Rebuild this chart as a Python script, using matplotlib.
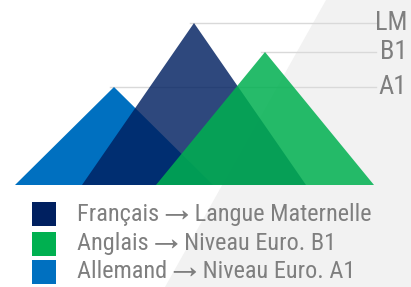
import matplotlib.pyplot as plt
from matplotlib.patches import Polygon

# languages, drawn back to front
languages = ["Allemand", "Français", "Anglais"]
levels = ["A1", "LM", "B1"]
heights = [98, 162, 133]
centers = [114, 194, 265]
half_widths = [99, 112, 109]
colors = ["#0070C0", "#002060", "#00B050"]
alphas = [1.0, 0.82, 0.85]

legend_labels = [
    "Français \u2192 Langue Maternelle",
    "Anglais \u2192 Niveau Euro. B1",
    "Allemand \u2192 Niveau Euro. A1",
]
legend_colors = ["#002060", "#00B050", "#0070C0"]

FONT = ["Roboto Condensed", "Archivo Narrow", "Liberation Sans", "DejaVu Sans"]
GREY_TEXT = "#7F7F7F"

fig = plt.figure(figsize=(4.11, 2.87), dpi=100)
ax = fig.add_axes([0, 0, 1, 1])
ax.set_xlim(0, 411)
ax.set_ylim(-102, 185)
ax.axis("off")

# light grey diagonal band on the right
ax.add_patch(Polygon([(326, 185), (411, 185), (411, -102), (165, -102)],
                     closed=True, facecolor="#F2F2F2", edgecolor="none", zorder=0))

# guide lines from each peak to its level label
for lvl, h, c in zip(levels, heights, centers):
    ax.plot([c - 4, 376], [h, h], color="#D9D9D9", lw=1, zorder=1)
    ax.text(407, h, lvl, ha="right", va="center", fontsize=19,
            color=GREY_TEXT, family=FONT, zorder=5)

# mountains
for i, (h, c, w, col, a) in enumerate(zip(heights, centers, half_widths, colors, alphas)):
    tri = Polygon([(c - w, 0), (c, h), (c + w, 0)], closed=True,
                  facecolor=col, edgecolor="none", alpha=a, zorder=2 + i)
    ax.add_patch(tri)

# legend
legend_y = [-29, -58.5, -87]
for lab, col, y in zip(legend_labels, legend_colors, legend_y):
    ax.add_patch(plt.Rectangle((32, y - 12), 24, 24, facecolor=col,
                               edgecolor="none", zorder=5))
    ax.text(77, y, lab, ha="left", va="center", fontsize=17.5,
            color=GREY_TEXT, family=FONT, zorder=5)

fig.savefig("out.png", dpi=100)
